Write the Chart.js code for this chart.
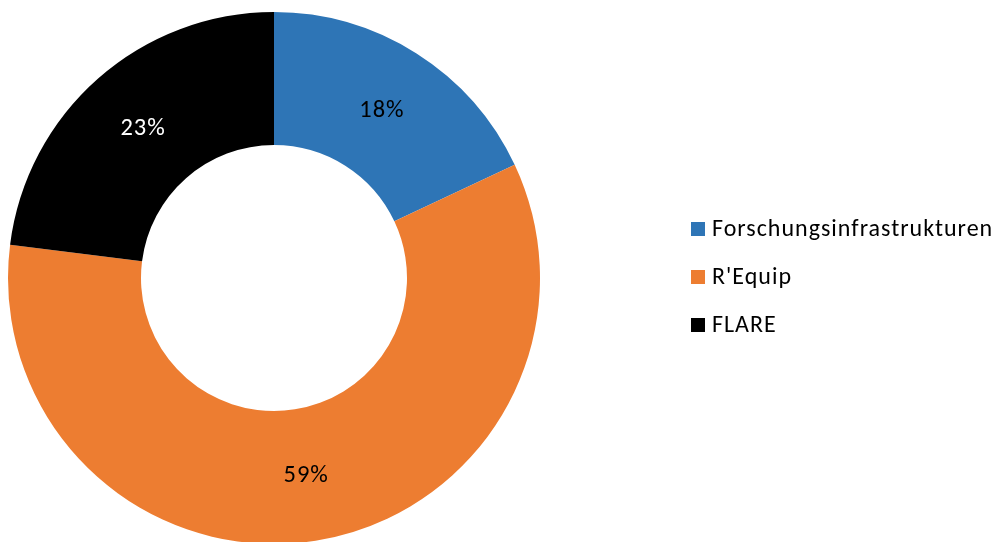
<!DOCTYPE html>
<html>
<head>
    <meta charset="utf-8">
    <title>Anteile</title>
    <script src="https://cdn.jsdelivr.net/npm/chart.js"></script>
    <style>
        html, body { margin: 0; padding: 0; background: #fff; overflow: hidden; }
        #wrap { position: absolute; left: 0; top: 0; width: 1001px; height: 546px; }
    </style>
</head>
<body>
    <div id="wrap"><canvas id="grafik"></canvas></div>

    <script>
        // Daten
        var kategorien = ["Forschungsinfrastrukturen", "R'Equip", "FLARE"];
        var anteile = [18, 59, 23];

        // Farben
        var farben = ["#2E75B6", "#ED7D31", "#000000"];
        var labelFarben = ["#000000", "#000000", "#FFFFFF"];
        var schrift = "Carlito, Lato, 'Open Sans', sans-serif";

        // Prozentwerte in die Mitte der Ringsegmente schreiben
        var prozentLabels = {
            id: "prozentLabels",
            afterDatasetsDraw: function (chart) {
                var ctx = chart.ctx;
                var meta = chart.getDatasetMeta(0);
                ctx.save();
                ctx.font = "24.5px " + schrift;
                ctx.letterSpacing = "1px";
                ctx.textAlign = "center";
                ctx.textBaseline = "middle";
                meta.data.forEach(function (arc, i) {
                    var p = arc.getCenterPoint();
                    ctx.fillStyle = labelFarben[i];
                    ctx.fillText(anteile[i] + "%", p.x + 1, p.y + 1);
                });
                ctx.restore();
            }
        };

        // Legende rechts
        var legende = {
            id: "legende",
            afterDraw: function (chart) {
                var ctx = chart.ctx;
                ctx.save();
                ctx.font = "24px " + schrift;
                ctx.letterSpacing = "1px";
                ctx.textAlign = "left";
                ctx.textBaseline = "middle";
                kategorien.forEach(function (name, i) {
                    var y = 229 + i * 48;
                    ctx.fillStyle = farben[i];
                    ctx.fillRect(691, y - 7, 14, 14);
                    ctx.fillStyle = "#000000";
                    ctx.fillText(name, 712, y + 1);
                });
                ctx.restore();
            }
        };

        var ctx = document.getElementById("grafik").getContext("2d");
        var grafik = new Chart(ctx, {
            type: "doughnut",
            data: {
                labels: kategorien,
                datasets: [{
                    data: anteile,
                    backgroundColor: farben,
                    borderWidth: 0
                }]
            },
            options: {
                responsive: true,
                maintainAspectRatio: false,
                animation: false,
                cutout: "50%",
                layout: { padding: { left: 8, right: 461, top: 12, bottom: 2 } },
                plugins: {
                    legend: { display: false },
                    tooltip: { enabled: false }
                }
            },
            plugins: [prozentLabels, legende]
        });
    </script>
</body>
</html>
